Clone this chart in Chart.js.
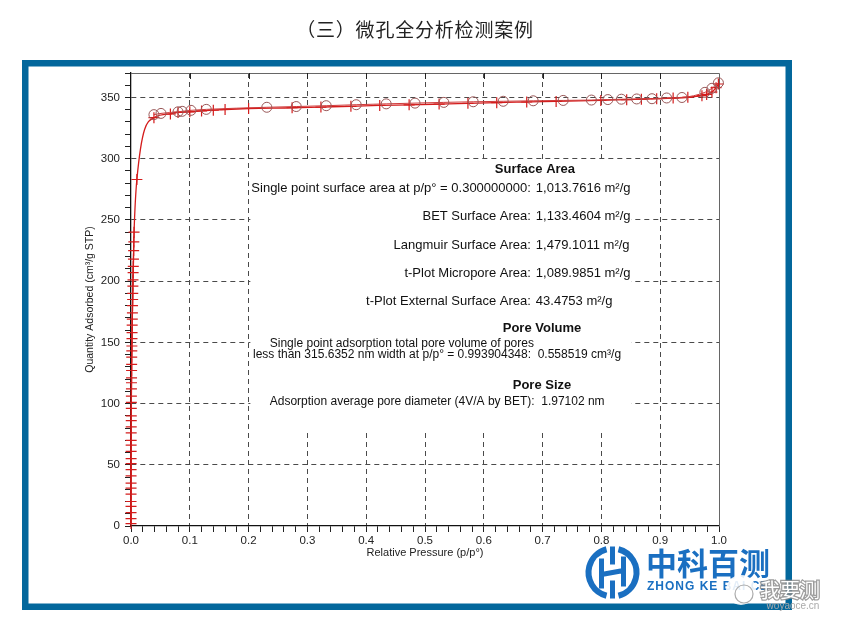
<!DOCTYPE html>
<html>
<head>
<meta charset="utf-8">
<script src="https://cdn.jsdelivr.net/npm/chart.js@4.4.1/dist/chart.umd.min.js"></script>
<style>
  html, body { margin: 0; padding: 0; background: #fff; }
  #wrap { position: relative; width: 849px; height: 621px; overflow: hidden; }
  #iso { position: absolute; left: 0; top: 0; }
  #title {
    position: absolute; left: 0; top: 15px; width: 830px; text-align: center;
    font: 19px "Noto Sans CJK SC", sans-serif; letter-spacing: 0.8px; color: #222;
  }
</style>
</head>
<body>
<div id="wrap">
  <canvas id="iso" width="849" height="621"></canvas>
  <div id="title">（三）微孔全分析检测案例</div>
</div>
<script>
// adsorption branch (+ markers), relative pressure p/p° and quantity adsorbed cm³/g STP
const adsP = [0.00001, 0.00002, 0.00003, 0.00004, 0.00005, 0.00007, 0.00008, 0.0001, 0.00012, 0.00014,
  0.00016, 0.00019, 0.00022, 0.00025, 0.00029, 0.00033, 0.00037, 0.00042, 0.00047, 0.00053,
  0.00059, 0.00066, 0.00074, 0.00082, 0.00091, 0.001, 0.0011, 0.0012, 0.00135, 0.0015,
  0.00165, 0.0018, 0.002, 0.0022, 0.0024, 0.0026, 0.0028, 0.003, 0.0032, 0.0034,
  0.0036, 0.0039, 0.0042, 0.0045, 0.0048, 0.0052,
  0.010, 0.039, 0.067, 0.080, 0.100, 0.120, 0.140, 0.160, 0.200, 0.274,
  0.323, 0.374, 0.423, 0.473, 0.524, 0.573, 0.622, 0.673, 0.723, 0.799,
  0.843, 0.868, 0.894, 0.922, 0.947, 0.971, 0.979, 0.988, 0.995, 0.999];
const adsQ = [2, 6, 11, 16, 20, 26, 31, 35, 41, 46,
  51, 55, 61, 66, 70, 76, 81, 86, 90, 96,
  101, 106, 112, 117, 121, 127, 132, 138, 143, 147,
  153, 158, 164, 169, 174, 180, 185, 190, 196, 201,
  207, 212, 218, 225, 232, 240,
  283, 333.5, 336.5, 337.8, 338.3, 339, 339.6, 340.2, 341, 341.6,
  342.2, 342.8, 343.5, 344, 344.6, 345.2, 345.8, 346.3, 346.8, 347.6,
  348.2, 348.6, 349, 349.5, 350.2, 351.5, 352.5, 354.5, 358, 361];

// desorption branch (o markers)
const desP = [0.039, 0.051, 0.080, 0.087, 0.102, 0.128, 0.231, 0.281, 0.332, 0.383,
  0.434, 0.483, 0.532, 0.582, 0.633, 0.684, 0.735, 0.783, 0.811, 0.834,
  0.860, 0.886, 0.911, 0.937, 0.976, 0.988, 0.999];
const desQ = [336, 337, 338.3, 338.7, 339.5, 340.3, 342, 342.6, 343.3, 344.1,
  344.8, 345.4, 346, 346.5, 346.9, 347.3, 347.6, 347.9, 348.3, 348.6,
  348.8, 349, 349.6, 350, 354.2, 357.5, 362];

const xLabels = ['0.0', '0.1', '0.2', '0.3', '0.4', '0.5', '0.6', '0.7', '0.8', '0.9', '1.0'];
const yLabels = ['0', '50', '100', '150', '200', '250', '300', '350'];

const surfaceRows = [
  ['Single point surface area at p/p° = 0.300000000:', '1,013.7616 m²/g'],
  ['BET Surface Area:', '1,133.4604 m²/g'],
  ['Langmuir Surface Area:', '1,479.1011 m²/g'],
  ['t-Plot Micropore Area:', '1,089.9851 m²/g'],
  ['t-Plot External Surface Area:', '43.4753 m²/g'],
];
const poreVolumeLines = [
  'Single point adsorption total pore volume of pores',
  'less than 315.6352 nm width at p/p° = 0.993904348:  0.558519 cm³/g',
];
const poreSizeLine = 'Adsorption average pore diameter (4V/A by BET):  1.97102 nm';

const sans = '"Liberation Sans", Arial, sans-serif';
const cjk = '"Noto Sans CJK SC", sans-serif';
const frameBlue = '#03679c';
const logoBlue = '#1a6fc1';

const pts = (xs, ys) => xs.map((x, i) => ({ x: x, y: ys[i] }));
const isMajorX = (v) => xLabels.includes(v.toFixed(1)) && Math.abs(v * 10 - Math.round(v * 10)) < 1e-6;
const isMajorY = (v) => yLabels.includes(String(v));

const decor = {
  id: 'decor',
  beforeDraw(chart) {
    const c = chart.ctx;
    c.save();
    c.fillStyle = '#fff';
    c.fillRect(0, 0, chart.width, chart.height);
    c.strokeStyle = frameBlue;
    c.lineWidth = 6.5;
    c.strokeRect(25.25, 63.25, 763.5, 543.5);
    c.restore();
  },
  beforeDatasetsDraw(chart) {
    const c = chart.ctx;
    const x = chart.scales.x, y = chart.scales.y;
    const a = chart.chartArea;
    c.save();
    // box behind the report text hides the grid
    const bx0 = x.getPixelForValue(0.203), bx1 = x.getPixelForValue(0.851);
    const by0 = y.getPixelForValue(297.5), by1 = y.getPixelForValue(78);
    c.fillStyle = '#fff';
    c.fillRect(bx0, by0, bx1 - bx0, by1 - by0);

    // top and right frame of the plot
    c.strokeStyle = '#666';
    c.lineWidth = 1;
    c.beginPath();
    c.moveTo(a.left, a.top + 0.5);
    c.lineTo(a.right + 0.5, a.top + 0.5);
    c.lineTo(a.right + 0.5, a.bottom);
    c.stroke();
    c.strokeStyle = '#222';
    c.beginPath();
    for (let i = 1; i < xLabels.length - 1; i++) {
      const px = Math.round(x.getPixelForValue(Number(xLabels[i]))) + 0.5;
      c.moveTo(px, a.top);
      c.lineTo(px, a.top + 6);
    }
    c.stroke();

    // report text
    c.fillStyle = '#111';
    c.textBaseline = 'middle';
    const colon = x.getPixelForValue(0.680);
    c.font = 'bold 13px ' + sans;
    c.textAlign = 'center';
    c.fillText('Surface Area', x.getPixelForValue(0.687), y.getPixelForValue(291.1));
    c.fillText('Pore Volume', x.getPixelForValue(0.699), y.getPixelForValue(161.1));
    c.fillText('Pore Size', x.getPixelForValue(0.699), y.getPixelForValue(114.5));
    c.font = '13px ' + sans;
    const rowQ = [276.1, 252.9, 229.2, 206.6, 183.4];
    surfaceRows.forEach((r, i) => {
      const py = y.getPixelForValue(rowQ[i]);
      c.textAlign = 'right';
      c.fillText(r[0], colon, py);
      c.textAlign = 'left';
      c.fillText(r[1], colon + 5, py);
    });
    c.textAlign = 'left';
    c.font = '12px ' + sans;
    c.fillText(poreVolumeLines[0], x.getPixelForValue(0.236), y.getPixelForValue(149.3));
    c.fillText(poreVolumeLines[1], x.getPixelForValue(0.2075), y.getPixelForValue(139.6));
    c.fillText(poreSizeLine, x.getPixelForValue(0.236), y.getPixelForValue(101.2));
    c.restore();
  },
  afterDraw(chart) {
    const c = chart.ctx;
    c.save();
    // company logo
    const cx = 612.5, cy = 572.5;
    c.strokeStyle = logoBlue;
    c.fillStyle = logoBlue;
    c.lineWidth = 6;
    c.beginPath();
    c.arc(cx, cy, 24, Math.PI * 0.58, Math.PI * 1.42);
    c.stroke();
    c.beginPath();
    c.arc(cx, cy, 24, -Math.PI * 0.42, Math.PI * 0.42);
    c.stroke();
    c.lineWidth = 5;
    c.beginPath();
    c.moveTo(cx - 11, cy - 14); c.lineTo(cx - 11, cy + 16);
    c.moveTo(cx + 11, cy - 16); c.lineTo(cx + 11, cy + 14);
    c.moveTo(cx - 11, cy + 2); c.lineTo(cx + 11, cy - 2);
    c.moveTo(cx, cy - 26); c.lineTo(cx, cy - 8);
    c.moveTo(cx, cy + 8); c.lineTo(cx, cy + 26);
    c.stroke();
    c.textBaseline = 'middle';
    c.textAlign = 'left';
    c.font = 'bold 31px ' + cjk;
    c.fillText('中科百测', 646, 563);
    c.font = 'bold 12px ' + sans;
    c.letterSpacing = '1px';
    c.fillText('ZHONG KE BAI CE', 647, 587);
    c.letterSpacing = '0px';
    // watermark over the logo
    c.fillStyle = 'rgba(255,255,255,0.88)';
    c.beginPath();
    c.arc(741, 590, 15, 0, Math.PI * 2);
    c.fill();
    c.strokeStyle = 'rgba(150,150,150,0.8)';
    c.lineWidth = 1.2;
    c.beginPath();
    c.arc(744, 594, 9, 0, Math.PI * 2);
    c.stroke();
    c.font = '20px ' + cjk;
    c.textAlign = 'center';
    c.lineWidth = 2.5;
    c.strokeStyle = 'rgba(140,140,140,0.85)';
    c.strokeText('我要测', 790, 590);
    c.fillStyle = '#fff';
    c.fillText('我要测', 790, 590);
    c.font = '10px ' + sans;
    c.fillStyle = '#aaa';
    c.fillText('woyaoce.cn', 793, 606);
    c.restore();
  }
};

new Chart(document.getElementById('iso'), {
  type: 'scatter',
  data: {
    datasets: [
      {
        label: 'Desorption',
        data: pts(desP, desQ),
        showLine: true,
        borderColor: '#cf3a3a',
        borderWidth: 1,
        pointStyle: 'circle',
        pointRadius: 5,
        pointBorderColor: '#9a5858',
        pointBackgroundColor: 'rgba(0,0,0,0)',
        pointBorderWidth: 1,
        cubicInterpolationMode: 'monotone',
        clip: false,
      },
      {
        label: 'Adsorption',
        data: pts(adsP, adsQ),
        showLine: true,
        borderColor: '#d41c1c',
        borderWidth: 1.3,
        pointStyle: 'cross',
        pointRadius: 5.5,
        pointBorderColor: '#d41c1c',
        pointBorderWidth: 1.2,
        cubicInterpolationMode: 'monotone',
        clip: false,
      },
    ],
  },
  options: {
    responsive: false,
    animation: false,
    events: [],
    layout: { padding: { left: 0, right: 130, top: 73, bottom: 55 } },
    plugins: { legend: { display: false }, tooltip: { enabled: false } },
    scales: {
      x: {
        type: 'linear',
        min: 0,
        max: 1,
        afterFit: (s) => { s.height = 40; },
        ticks: {
          stepSize: 0.02,
          maxTicksLimit: 200,
          autoSkip: false,
          maxRotation: 0,
          padding: 2,
          color: '#222',
          font: { family: sans, size: 11.5 },
          callback: (v) => (isMajorX(v) ? v.toFixed(1) : ''),
        },
        grid: {
          color: (c) => (c.tick && isMajorX(c.tick.value) && c.tick.value > 0 && c.tick.value < 1 ? '#4a4a4a' : 'rgba(0,0,0,0)'),
          tickColor: '#222',
          tickLength: 6,
          lineWidth: 1,
        },
        border: { color: '#111', width: 1.3, dash: [5, 4] },
        title: {
          display: true,
          text: 'Relative Pressure (p/p°)',
          color: '#222',
          font: { family: sans, size: 11 },
          padding: { top: 0, bottom: 6 },
        },
      },
      y: {
        type: 'linear',
        min: 0,
        max: 370,
        afterFit: (s) => { s.width = 131; },
        ticks: {
          stepSize: 10,
          maxTicksLimit: 200,
          autoSkip: false,
          padding: 5,
          color: '#222',
          font: { family: sans, size: 11.5 },
          callback: (v) => (isMajorY(v) ? String(v) : ''),
        },
        grid: {
          color: (c) => (c.tick && isMajorY(c.tick.value) && c.tick.value > 0 ? '#4a4a4a' : 'rgba(0,0,0,0)'),
          tickColor: '#222',
          tickLength: 6,
          lineWidth: 1,
        },
        border: { color: '#111', width: 1.3, dash: [5, 4] },
        title: {
          display: true,
          text: 'Quantity Adsorbed (cm³/g STP)',
          color: '#222',
          font: { family: sans, size: 10.5 },
          padding: { top: 84, bottom: 0 },
        },
      },
    },
  },
  plugins: [decor],
});
</script>
</body>
</html>
